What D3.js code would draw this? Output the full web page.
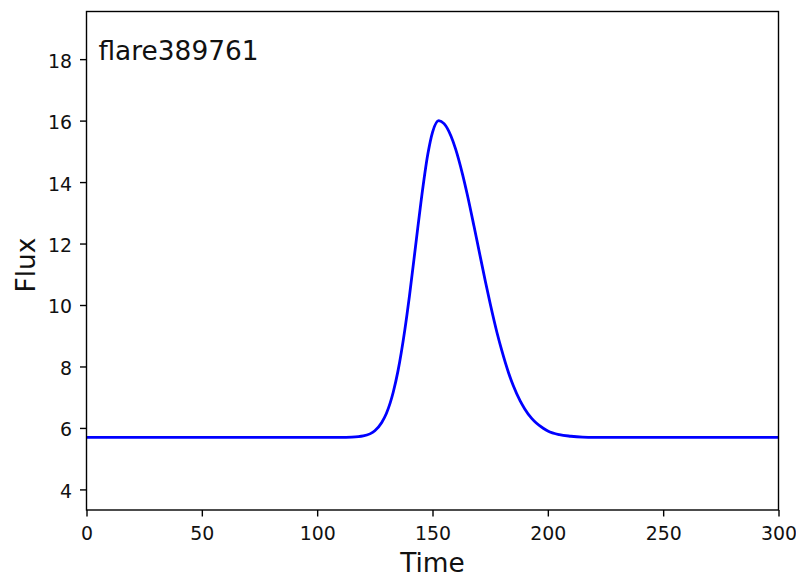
<!DOCTYPE html>
<html>
<head>
<meta charset="utf-8">
<script src="https://cdn.jsdelivr.net/npm/d3@7"></script>
<style>
  html, body { margin: 0; padding: 0; background: #fff; }
  svg { display: block; font-family: "DejaVu Sans", sans-serif; }
</style>
</head>
<body>
<svg id="chart" width="796" height="574"></svg>
<script>
// Light curve of the flare: time samples and flux
const times = [0, 20, 40, 60, 80, 100, 110, 115, 120, 125, 128, 130, 133, 135, 138, 140,
  143, 145, 148, 150, 152.7, 155, 158, 160, 163, 165, 168, 170, 173, 175, 178, 180,
  183, 185, 188, 190, 193, 195, 198, 200, 205, 210, 215, 220, 240, 260, 280, 300];
const flux = [5.69, 5.69, 5.69, 5.69, 5.69, 5.69, 5.69, 5.70, 5.74, 5.91, 6.18, 6.47, 7.17, 7.84, 9.19, 10.29,
  12.13, 13.35, 14.92, 15.62, 16.0, 15.90, 15.50, 15.08, 14.26, 13.62, 12.56, 11.83, 10.74, 10.05, 9.09, 8.53,
  7.79, 7.38, 6.88, 6.62, 6.31, 6.16, 5.99, 5.90, 5.78, 5.73, 5.70, 5.69, 5.69, 5.69, 5.69, 5.69];
const xTicks = [0, 50, 100, 150, 200, 250, 300];
const yTicks = [4, 6, 8, 10, 12, 14, 16, 18];
const xDomain = [0, 300];
const yDomain = [3.33, 19.55];
const flareName = "flare389761";

const svg = d3.select("#chart");
const box = { left: 86.5, right: 778.5, top: 11.5, bottom: 510 };

const x = d3.scaleLinear().domain(xDomain).range([box.left, box.right]);
const y = d3.scaleLinear().domain(yDomain).range([box.bottom, box.top]);

const points = times.map((t, i) => ({ t, f: flux[i] }));

// Clip the curve to the axes area
svg.append("defs").append("clipPath").attr("id", "plot-clip")
  .append("rect")
  .attr("x", box.left).attr("y", box.top)
  .attr("width", box.right - box.left).attr("height", box.bottom - box.top);

const line = d3.line()
  .x(d => x(d.t))
  .y(d => y(d.f))
  .curve(d3.curveMonotoneX);

svg.append("path")
  .datum(points)
  .attr("clip-path", "url(#plot-clip)")
  .attr("fill", "none")
  .attr("stroke", "#0000ff")
  .attr("stroke-width", 2.8)
  .attr("stroke-linejoin", "round")
  .attr("d", line);

// Axes
const xAxis = d3.axisBottom(x).tickValues(xTicks).tickSize(6.5).tickPadding(10).tickFormat(d3.format("d"));
const yAxis = d3.axisLeft(y).tickValues(yTicks).tickSize(6.5).tickPadding(8).tickFormat(d3.format("d"));

const gx = svg.append("g").attr("transform", `translate(0,${box.bottom})`).call(xAxis);
const gy = svg.append("g").attr("transform", `translate(${box.left},0)`).call(yAxis);

[gx, gy].forEach(g => {
  g.select(".domain").remove();
  g.selectAll(".tick line").attr("stroke", "#000").attr("stroke-width", 1.4);
  g.selectAll(".tick text")
    .attr("fill", "#111")
    .style("font-size", "18.9px")
    .style("font-family", "'DejaVu Sans', sans-serif");
});
gy.selectAll(".tick text").attr("dy", "0.42em");

// Frame around the axes
svg.append("rect")
  .attr("x", box.left).attr("y", box.top)
  .attr("width", box.right - box.left).attr("height", box.bottom - box.top)
  .attr("fill", "none")
  .attr("stroke", "#000")
  .attr("stroke-width", 1.4);

// Axis labels
svg.append("text")
  .attr("x", (box.left + box.right) / 2)
  .attr("y", 572)
  .attr("text-anchor", "middle")
  .attr("fill", "#111")
  .style("font-size", "26.4px")
  .text("Time");

svg.append("text")
  .attr("transform", `translate(35,265) rotate(-90)`)
  .attr("text-anchor", "middle")
  .attr("fill", "#111")
  .style("font-size", "26.4px")
  .text("Flux");

// Flare identifier
svg.append("text")
  .attr("x", 98.5)
  .attr("y", 59.5)
  .attr("fill", "#111")
  .style("font-size", "26.4px")
  .text(flareName);
</script>
</body>
</html>
